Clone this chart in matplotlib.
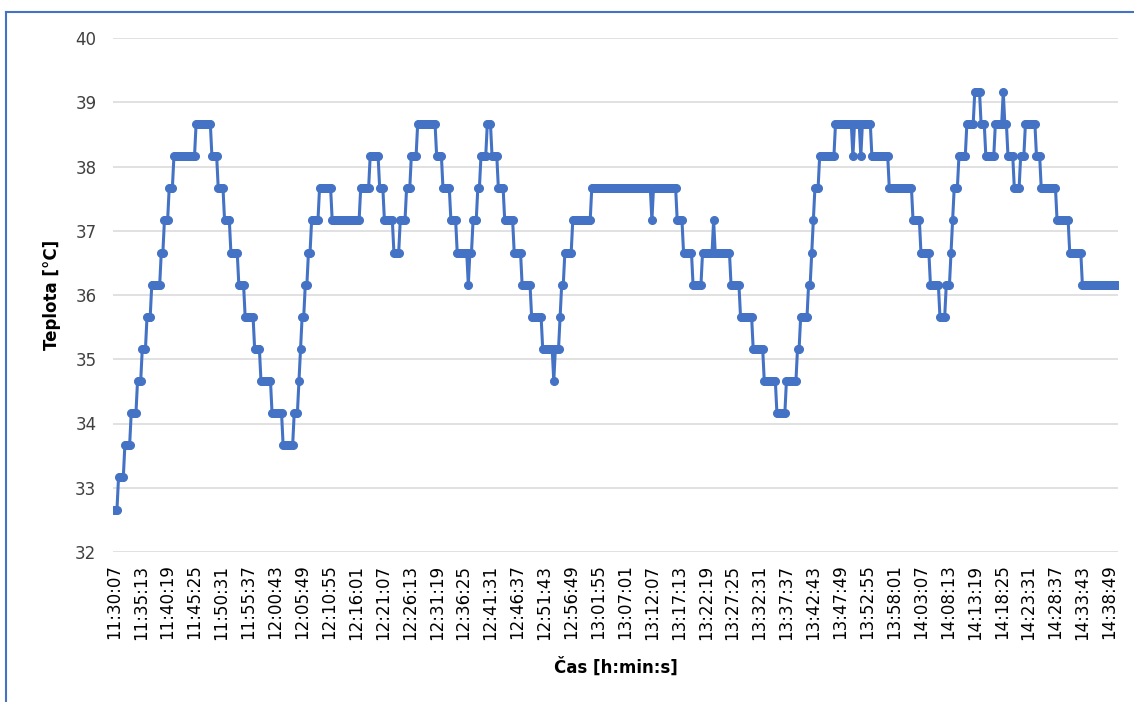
import numpy as np
import matplotlib.pyplot as plt
from matplotlib.lines import Line2D

# Temperature log: time of change -> new value
change_times = ['11:30:07', '11:30:53', '11:32:09', '11:33:17', '11:34:33', '11:35:18',
                '11:36:08', '11:37:05', '11:38:59', '11:39:29', '11:40:26', '11:41:31',
                '11:45:38', '11:48:36', '11:49:45', '11:50:50', '11:52:06', '11:53:33',
                '11:54:49', '11:56:43', '11:57:59', '11:59:53', '12:01:59', '12:04:19',
                '12:04:57', '12:05:24', '12:05:47', '12:06:21', '12:06:51', '12:07:29',
                '12:09:04', '12:11:17', '12:16:21', '12:16:37', '12:16:52', '12:18:26',
                '12:20:28', '12:21:25', '12:23:00', '12:24:08', '12:25:24', '12:26:18',
                '12:27:26', '12:31:14', '12:32:30', '12:33:46', '12:35:06', '12:37:15',
                '12:37:34', '12:38:12', '12:39:02', '12:39:28', '12:40:44', '12:41:33',
                '12:42:50', '12:44:13', '12:45:48', '12:47:23', '12:49:09', '12:51:18',
                '12:53:24', '12:53:37', '12:54:29', '12:54:52', '12:55:37', '12:56:54',
                '13:00:33', '13:11:54', '13:12:09', '13:16:51', '13:18:06', '13:19:49',
                '13:21:35', '13:23:48', '13:24:04', '13:26:50', '13:28:52', '13:31:17',
                '13:33:18', '13:35:43', '13:37:25', '13:39:27', '13:40:16', '13:41:32',
                '13:42:10', '13:42:29', '13:42:59', '13:43:38', '13:46:55', '13:50:05',
                '13:50:24', '13:51:40', '13:51:55', '13:53:34', '13:57:03', '14:01:29',
                '14:03:04', '14:04:39', '14:06:33', '14:07:49', '14:08:38', '14:08:57',
                '14:09:24', '14:10:02', '14:11:37', '14:13:12', '14:14:28', '14:15:25',
                '14:17:11', '14:18:35', '14:18:47', '14:19:32', '14:20:36', '14:21:45',
                '14:22:42', '14:24:55', '14:25:52', '14:28:43', '14:31:15', '14:33:39']
change_temps = [32.66, 33.16, 33.66, 34.16, 34.66, 35.16,
                35.66, 36.16, 36.66, 37.16, 37.66, 38.16,
                38.66, 38.16, 37.66, 37.16, 36.66, 36.16,
                35.66, 35.16, 34.66, 34.16, 33.66, 34.16,
                34.66, 35.16, 35.66, 36.16, 36.66, 37.16,
                37.66, 37.16, 37.66, 37.16, 37.66, 38.16,
                37.66, 37.16, 36.66, 37.16, 37.66, 38.16,
                38.66, 38.16, 37.66, 37.16, 36.66, 36.16,
                36.66, 37.16, 37.66, 38.16, 38.66, 38.16,
                37.66, 37.16, 36.66, 36.16, 35.66, 35.16,
                34.66, 35.16, 35.66, 36.16, 36.66, 37.16,
                37.66, 37.16, 37.66, 37.16, 36.66, 36.16,
                36.66, 37.16, 36.66, 36.16, 35.66, 35.16,
                34.66, 34.16, 34.66, 35.16, 35.66, 36.16,
                36.66, 37.16, 37.66, 38.16, 38.66, 38.16,
                38.66, 38.16, 38.66, 38.16, 37.66, 37.16,
                36.66, 36.16, 35.66, 36.16, 36.66, 37.16,
                37.66, 38.16, 38.66, 39.16, 38.66, 38.16,
                38.66, 39.16, 38.66, 38.16, 37.66, 38.16,
                38.66, 38.16, 37.66, 37.16, 36.66, 36.16]

start_time = '11:30:07'
end_time = '14:40:19'
sample_step = 18   # seconds between logged samples
label_every = 17   # Excel shows every 17th category label


def to_sec(s):
    h, m, sec = map(int, s.split(':'))
    return h * 3600 + m * 60 + sec


def to_clock(t):
    t = int(t)
    return '%d:%02d:%02d' % (t // 3600, (t // 60) % 60, t % 60)


t0 = to_sec(start_time)
samples = np.arange(t0, to_sec(end_time) + 1, sample_step)
change_sec = np.array([to_sec(s) for s in change_times])
idx = np.searchsorted(change_sec, samples, side='right') - 1
temps = np.array(change_temps)[idx]
x = samples - t0

blue = '#4472C4'
plt.rcParams['font.family'] = 'DejaVu Sans'

fig = plt.figure(figsize=(11.34, 7.02), dpi=100)
ax = fig.add_axes([113 / 1134, 1 - 552 / 702, 1005 / 1134, 514 / 702])

ax.plot(x, temps, color=blue, lw=2.2, marker='o', ms=5.5, zorder=3)

ax.set_ylim(32, 40)
ax.set_yticks(range(32, 41))
ax.set_xlim(x[0] - sample_step / 2, x[-1] + sample_step / 2)
ax.set_xticks(x[::label_every])
ax.set_xticklabels([to_clock(s) for s in samples[::label_every]], rotation=90)

ax.grid(axis='y', color='#D9D9D9', lw=1.1)
ax.set_axisbelow(True)
for sp in ax.spines.values():
    sp.set_visible(False)
ax.tick_params(axis='both', length=0, labelsize=12, colors='#000000')
ax.tick_params(axis='y', pad=12, labelcolor='#404040')
ax.tick_params(axis='x', pad=9)

ax.set_xlabel('Čas [h:min:s]', fontsize=12, fontweight='bold')
ax.set_ylabel('Teplota [°C]', fontsize=12, fontweight='bold')
ax.xaxis.set_label_coords(0.5, -0.205)
ax.yaxis.set_label_coords(-0.052, 0.5)

# chart frame, only left and top edges visible in the crop
fig.add_artist(Line2D([6 / 1134, 6 / 1134], [0, 1 - 12 / 702], color=blue, lw=1.5))
fig.add_artist(Line2D([6 / 1134, 1], [1 - 12 / 702, 1 - 12 / 702], color=blue, lw=1.5))

fig.savefig('out.png', dpi=100)
